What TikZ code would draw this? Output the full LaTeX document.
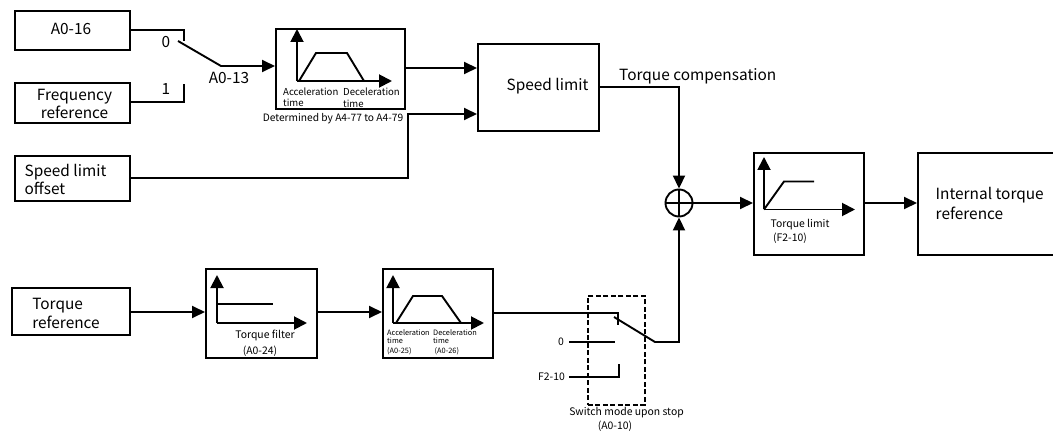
\documentclass[tikz,border=0pt]{standalone}
\usepackage{fontspec}
\setmainfont{Noto Sans CJK SC}
\usetikzlibrary{arrows.meta,positioning}
\tikzset{
  blockbox/.style={draw, line width=1.9pt, inner sep=0pt},
  inlabel/.style={font=\fontsize{15.4}{18}\selectfont, align=left, inner sep=0pt},
  tinylabel/.style={font=\fontsize{9.6}{11}\selectfont, align=left, inner sep=0pt},
  smalllabel/.style={font=\fontsize{10.4}{13}\selectfont, align=left, inner sep=0pt},
  microlabel/.style={font=\fontsize{7.4}{9}\selectfont, align=left, inner sep=0pt},
  wire/.style={line width=1.9pt},
  flow/.style={line width=1.9pt, -{Triangle[length=13pt,width=12pt]}},
  axis/.style={line width=1.9pt, -{Triangle[length=13pt,width=13pt]}},
}
\newcommand{\blockat}[5]{\node[blockbox, minimum width=#4pt, minimum height=#5pt, anchor=north west] (#1) at (#2,#3) {};}
\begin{document}
\begin{tikzpicture}[x=1pt, y=-1pt]
        \useasboundingbox (0,0) rectangle (1053,433);

        % Ingressi
        \blockat{aSixteen}{14}{10}{115}{39}
        \blockat{freqRef}{14}{82.5}{115}{39.5}
        \blockat{offset}{14}{155.5}{115}{45}
        \blockat{torqueRef}{11}{287}{118}{47}
        \node[inlabel] at (71,29) {A0-16};
        \node[inlabel, align=center] at (74.5,104) {Frequency\\reference};
        \node[inlabel] at (65.5,179) {Speed limit\\offset};
        \node[inlabel] at (66,313.5) {Torque\\[1pt]reference};

        % Blocchi
        \blockat{rampA}{275}{28.5}{129}{79.5}
        \blockat{limitS}{477}{43}{121}{87}
        \blockat{filterT}{205}{268}{111}{89}
        \blockat{rampB}{382}{268}{110}{89}
        \blockat{limitT}{753}{152}{110}{102}
        \blockat{internal}{917}{152}{138}{102}
        \node[inlabel] at (547.5,86) {Speed limit};
        \node[inlabel, anchor=west] at (935.5,203) {Internal torque\\[2pt]reference};

        % Selettore A0-13
        \coordinate (swAtop) at (184,41);
        \coordinate (swAlow) at (184,84);
        \coordinate (swAout) at (221,66);
        \draw[wire] (aSixteen.east |- 0,30) -| (swAtop);
        \draw[wire] (freqRef.east |- 0,102) -| (swAlow);
        \draw[flow] (178,41) -- (swAout) -- (rampA.west |- swAout);
        \node[inlabel] at (166,42) {0};
        \node[inlabel] at (166,89) {1};
        \node[inlabel] at (229,78) {A0-13};

        % Uscite verso il limite di velocita
        \draw[flow] (rampA.east |- 0,68) -- (limitS.west |- 0,68);
        \draw[flow] (offset.east |- 0,178) -- (408,178) |- (limitS.west |- 0,114);

        % Rampa A
        \draw[axis] (297,81) -- (297,29);
        \draw[axis] (297,81) -- (392,81);
        \draw[wire] (299,81) -- (316,53) -- (347,53) -- (364,81);
        \node[tinylabel, anchor=west] at (283,92) {Acceleration};
        \node[tinylabel, anchor=west] at (283,103) {time};
        \node[tinylabel, anchor=west] at (343,92) {Deceleration};
        \node[tinylabel, anchor=west] at (343,104) {time};
        \node[smalllabel, font=\fontsize{10.2}{12}\selectfont] at (333,119) {Determined by A4-77 to A4-79};

        % Sommatore
        \node[draw, circle, line width=1.9pt, minimum size=27pt, inner sep=0pt] (sumNode) at (679,203) {};
        \draw[line width=1.9pt] (sumNode.west) -- (sumNode.east) (sumNode.north) -- (sumNode.south);
        \draw[flow] (limitS.east |- 0,87) -| (sumNode.north);
        \node[inlabel, anchor=west] at (619,76) {Torque compensation};
        \draw[flow] (sumNode.east) -- (limitT.west |- sumNode);
        \draw[flow] (limitT.east |- sumNode) -- (internal.west |- sumNode);

        % Limite di coppia
        \draw[axis] (764,209.5) -- (764,157);
        \draw[axis] (764,209.5) -- (855,209.5);
        \draw[wire] (764,209.5) -- (784,181.5) -- (814,181.5);
        \node[smalllabel, anchor=west] at (770.5,225) {Torque limit};
        \node[smalllabel, anchor=west] at (773,238) {(F2-10)};

        % Ramo inferiore
        \draw[flow] (torqueRef.east |- 0,312) -- (filterT.west |- 0,312);
        \draw[flow] (filterT.east |- 0,312) -- (rampB.west |- 0,312);
        \draw[axis] (217,323) -- (217,275);
        \draw[axis] (217,323) -- (307,323);
        \draw[wire] (217,304) -- (273,304);
        \node[smalllabel] at (265,335) {Torque filter};
        \node[smalllabel] at (260,351) {(A0-24)};

        \draw[axis] (393,323) -- (393,275);
        \draw[axis] (393,323) -- (484,323);
        \draw[wire] (396,323) -- (413,296) -- (442,296) -- (461,323);
        \node[microlabel, anchor=west] at (387,333) {Acceleration};
        \node[microlabel, anchor=west] at (387,341) {time};
        \node[microlabel, anchor=west] at (387,351) {(A0-25)};
        \node[microlabel, anchor=west] at (433,333) {Deceleration};
        \node[microlabel, anchor=west] at (433,341) {time};
        \node[microlabel, anchor=west] at (434.5,351) {(A0-26)};

        % Selettore A0-10
        \node[draw, line width=1.9pt, dash pattern=on 5pt off 2.5pt, minimum width=57pt, minimum height=109pt, anchor=north west, inner sep=0pt] (modeBox) at (587,295) {};
        \draw[wire] (rampB.east |- 0,313) -| (618,325);
        \draw[flow] (614,317) -- (655,342) -| (sumNode.south);
        \node[smalllabel, anchor=east] (zeroLabel) at (564,342) {0};
        \node[smalllabel, anchor=east] (fLabel) at (565,377) {F2-10};
        \draw[wire] (569,342) -- (615,342);
        \draw[wire] (569,377) -- (619,377) -- (619,364);
        \node[smalllabel] at (626.5,413) {Switch mode upon stop};
        \node[smalllabel] at (615,426) {(A0-10)};
\end{tikzpicture}
\end{document}
